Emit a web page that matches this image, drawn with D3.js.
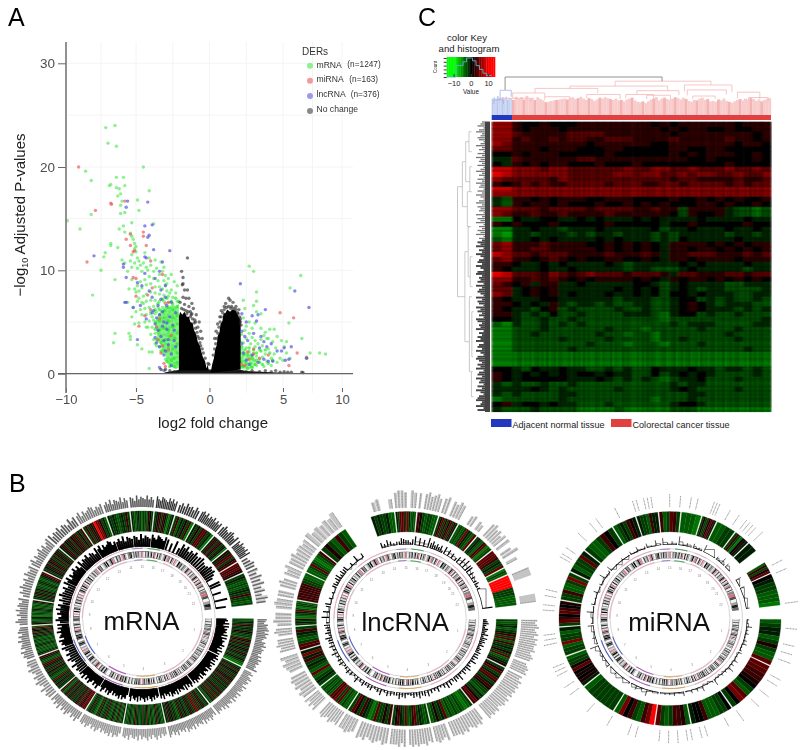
<!DOCTYPE html>
<html><head><meta charset="utf-8">
<style>html,body{margin:0;padding:0;background:#fff}svg{display:block;font-family:"Liberation Sans",Arial,sans-serif}</style>
<script src="https://cdn.jsdelivr.net/npm/d3@7"></script>
</head><body><svg id="c" width="800" height="750"></svg>
<script>
/* ---------- Panel A: volcano ---------- */
const xTicks=[-10,-5,0,5,10], yTicks=[0,10,20,30];
const legendNames=["mRNA","miRNA","lncRNA","No change"], legendCounts=["(n=1247)","(n=163)","(n=376)",""];
const greenPts=[[-7.16,23.8],[-6.5,24],[-7,22.3],[-6.4,22],[-4.5,20],[-8.6,19.6],[-8.2,18.7],[-6.4,19],[-5.9,19],[-6.8,18.3],[-6.9,18.2],[-6.4,18],[-5.8,18.2],[-6.2,17.9],[-4.1,17.7],[-6.1,17.4],[-6.3,17.2],[-4.9,16.8],[-6,16.7],[-6.1,16.3],[-4.8,15.8],[-8.2,15.4],[-6.1,15.5],[-5.8,15.6],[-9.9,14.8],[-9,14],[-5.3,14.6],[-3.8,14.5],[-5.9,14.3],[-6.2,14],[-5.8,13.7],[-5.4,13.6],[-6.8,12.6],[-6.8,12.4],[-7.2,11.7],[-7.3,11.3],[-7.5,10],[-8.1,7.6],[-6.5,9.1],[-6,11],[-5.8,10.7],[-6.5,3.9],[-6.6,3],[-5.5,3.9],[-5.4,3.6],[-5.4,3.3],[-4.1,2.1],[-3.9,2.1],[-4.1,.5],
[-5.3,13.3],[-5.2,13],[-5.1,12.6],[-5,12.3],[-5.1,12.1],[-5,11.8],[-5.3,11.5],[-4.9,11.2],[-4.8,10.9],[-5.1,10.7],[-4.7,10.5],[-4.9,10.2],[-4.5,10.7],[-4.3,10.3],[-4.6,9.9],[-4.2,10],[-4,10.5],[-3.8,9.9],[-3.6,10.2],[-3.4,9.6],[-3.2,9.9],[-3,9.5],[-2.8,9.2],[-2.6,9.6],[-2.4,8.9],[-2.2,8.5],[-2.9,8.7],[-3.1,9],[-3.5,9],[-3.8,9.2],[-4.1,9.4],[-4.4,9.1],[-4.7,8.9],[-4.9,8.5],[-5.1,8.2],[-5,7.9],[-4.8,8],[-4.6,8.3],[-4.3,8.6],[-4,8.7],[-3.7,8.4],[-3.4,8.4],[-3.2,8.2],[-2.9,8],[-2.6,8.1],[-2.3,7.8],[-2.5,7.4],[-2.8,7.5],[-3.1,7.6],[-3.4,7.7],[-3.7,7.8],[-4,7.9],[-4.3,7.7],[-4.5,7.5],[-4.8,7.3],[-4.9,7],[-4.6,6.9],[-4.3,7],[-4,7.1],[-3.7,7.1],[-3.4,7],[-3.1,7],[-2.8,6.9],[-2.5,6.8],[-2.2,7],[-2.3,6.4],[-2.6,6.3],[-2.9,6.4],[-3.2,6.4],[-3.5,6.4],[-3.8,6.5],[-4.1,6.4],[-4.4,6.3],[-4.7,6.2],[-5,6],[-5.3,5.5],[-4.6,5.7],[-4.3,5.7],[-4,5.8],[-3.7,5.8],[-3.4,5.7],[-3.1,5.8],[-2.8,5.7],[-2.5,5.7],[-2.2,5.8],[-2.3,5.2],[-2.6,5.1],[-2.9,5.2],[-3.2,5.1],[-3.5,5.1],[-3.8,5.2],[-4.1,5.1],[-4.4,5],[-4.8,4.9],[-4.2,4.5],[-3.9,4.5],[-3.6,4.5],[-3.3,4.4],[-3,4.5],[-2.7,4.5],[-2.4,4.6],[-2.2,4.1],[-2.5,3.9],[-2.8,3.9],[-3.1,3.8],[-3.4,3.8],[-3.7,3.9],[-4,3.8],[-3.8,3.3],[-3.5,3.2],[-3.2,3.2],[-2.9,3.3],[-2.6,3.3],[-2.3,3.4],[-2.2,2.8],[-2.5,2.7],[-2.8,2.7],[-3.1,2.6],[-3.4,2.6],[-3.6,2.7],[-3.2,2],[-2.9,2.1],[-2.6,2.1],[-2.3,2.2],[-2.2,1.6],[-2.5,1.5],[-2.8,1.5],[-3,1.4],[-2.7,1],[-2.4,1],[-2.2,.9],[-2.3,.6],[-4.9,2.8],[-4.6,2.4],[-5.1,4.8],[-5.2,6.4],[-5.6,6.9],[-5.5,8.2],[-5.3,9.1],[-5.6,9.9],[-5.3,10.3],[-6.3,12.2],[-5.4,10.9],[-3.3,10.8],[-3.1,10.3],[-3.7,11],[-4.1,11.2],[-4.4,11.7],[-3,8.6],[-2.7,7.8],[-3.6,6],[-3.3,6.1],[-3,6.1],[-2.7,6],[-2.4,6.1],[-4,6],[-4.5,6.8],[-3.9,5.5],[-3.3,5.4],[-2.9,5.5],[-2.4,5.4],[-4.3,4.5],[-3.5,4],[-2.9,3.7],[-2.4,3.6],[-3.7,2.9],[-3,2.9],
[2.7,10.4],[3,9.9],[6.5,9.5],[5.6,8.3],[3.2,7.9],[2.3,7.1],[2.4,6.3],[3,6.6],[3.2,6],[3.5,5.8],[3.2,7],[5.5,4.9],[6.6,3.4],[7.3,2],[8.1,2],[8.6,1.9],[7,1.5],[5.6,1.5],[5.3,3.1],[5.1,2.6],[4.9,3.2],[4.6,3.6],[4.5,2.5],[4.4,4.3],[4.1,4.3],[4.3,3.1],[4,3.4],[4,2.4],[3.9,3.4],[3.7,3.7],[3.5,3.3],[3.6,2.7],[3.3,2.9],[3.4,2.3],[3.1,3.2],[3.1,2.6],[2.9,3.5],[3,2],[2.8,2.9],[2.7,3.9],[2.7,2.2],[2.5,3.4],[2.5,2.5],[2.4,4.2],[2.3,3],[2.4,1.9],[2.2,2.4],[2.2,1.5],[2.4,1.2],[2.6,1.5],[2.8,1.7],[3,1.3],[3.2,1.7],[3.4,1.4],[3.6,1.6],[3.8,1.9],[3.9,1.2],[4.2,1.5],[4.4,1.9],[4.6,1.1],[4.8,1.5],[5,1.3],[5.3,2],[4.2,.8],[3.7,.7],[3.2,.8],[2.8,.7],[2.5,.7],[2.2,.7],[2.1,1.1],[2.1,2],[2.1,3.1],[2.2,3.8],[2.5,4.6],[2.7,5],[2.9,4.4],[3.1,4.9],[3.5,4.4],[3.8,4],[2.3,5.4]];
const brightPts=[[-2.1,7],[-2.3,7.3],[-2.6,7],[-2.9,7.3],[-3.2,7.2],[-3.5,6.8],[-2.2,6.5],[-2.5,6.2],[-2.8,6.4],[-3.1,6.1],[-3.4,6.2],[-3.7,6.2],[-2.2,5.6],[-2.5,5.4],[-2.8,5.1],[-3.1,5.4],[-3.4,5.1],[-3.7,5],[-2.2,4.8],[-2.5,4.5],[-2.8,4.2],[-3.1,4.4],[-3.4,4.2],[-3.7,4.3],[-2.2,3.9],[-2.4,3.4],[-2.7,3.6],[-3,3.3],[-3.3,3],[-3.6,3.3],[-2.2,2.9],[-2.5,2.4],[-2.8,2.5],[-3.1,2.3],[-3.3,2.2],[-2.2,2],[-2.4,1.5],[-2.6,1.3],[-2.9,1.2],[-2.2,1.1],[-2.4,.7],[-2.7,.7],
[2.2,2.6],[2.4,2.3],[2.7,2.5],[3,2.3],[3.2,2],[2.3,1.8],[2.6,1.8],[2.9,1.5],[3.2,1.3],[3.4,1.1],[2.2,1.2],[2.5,1],[2.8,1],[3.1,.9],[2.3,.7],[2.6,.5],[2.9,.6],[3.5,2.2],[3.8,2.3],[4.1,2],[3.6,.9],[4,1],[4.3,1.3]];
const redPts=[[-9.1,20],[-6.8,16.5],[-6.75,16.4],[-7.9,15.8],[-8.5,10.8],[-5.8,16.7],[-4.5,13.7],[-4.5,13.3],[-5.7,13],[-5.4,13.5],[-5.4,12.4],[-5.1,11.9],[-5.2,11.8],[-4.3,12.4],[-4,10.9],[-5.2,9.3],[-5,9.2],[-5,7.5],[-4.8,4.6],[-3.1,1],[-3,.7],[-3.3,2],[-4.4,5.6],[-4,6.2],[-3.4,5.3],[-3,6.8],[-2.8,6.9],[-3.2,9.6],[-3.9,8.3],[-3.5,3.3],[-3.2,2.7],[-2.8,2.3],[-2.6,3.7],[-3.6,4.5],[-4.2,7.6],[4.8,5.9],[5.9,5.4],[6.2,2],[5.5,.8],[7,1.6],[3,1.9],[3.4,1.5],[2.6,2.1],[2.2,.9],[3,2.4],[2.4,.8],[4,1.8],[2.7,1.4]];
const bluePts=[[-5.6,16.7],[-5.7,16.1],[-4.2,16.6],[-4.4,14.3],[-3.9,14.4],[-4.1,13.4],[-4.2,13.2],[-8,11.4],[-5.9,10.6],[-5.9,10.3],[-4.4,11.3],[-4.3,11.2],[-3.8,12],[-2.7,11.9],[-5.7,9.3],[-3.2,10.8],[-5.8,6.9],[-5.7,6.9],[-5.2,6.4],[-3.4,9.9],[-4.4,9.7],[-4.6,8.5],[-4.1,8],[-3.9,7.4],[-3.3,8.1],[-3,7.4],[-3.5,6.6],[-2.9,6.6],[-3.8,6.1],[-3.2,6],[-3.4,5.7],[-2.7,5.5],[-4.3,5.3],[-3.7,4.8],[-3.1,5],[-3.5,4.2],[-2.9,4.3],[-2.5,4.7],[-3.3,3.6],[-3.7,3.5],[-2.8,3.3],[-3.1,3.2],[-2.4,3.2],[-4.9,3.3],[-3.4,2.6],[-3,2.2],[-2.6,1.9],[-3.4,.6],[-3.1,.3],[-2.6,.8],[-4.7,6.6],[-4.9,8.8],[-3.7,9.2],[-3,8.5],[-2.6,6.9],[-3.3,7.2],[-2.3,5.9],[-3.6,5.4],[-2.9,4.9],[-3.9,5.9],[-2.4,4.2],[-3.2,4.6],[-2.8,2.8],[-3.6,3],[-2.3,2.6],[-3.1,1.8],
[2.1,8.7],[6,8],[7.2,6.4],[3.8,6.2],[7,1.5],[5.7,2.6],[3.3,5.7],[2.9,5.6],[3.2,5.1],[2.5,5],[2.2,5.8],[2.2,4.1],[3,3.9],[2.4,3.6],[2.6,3.2],[2.2,2.9],[3.5,3.6],[3.4,2.5],[3.7,3.1],[3.9,2.6],[4.2,2.9],[4.6,2.2],[4.3,1.2],[4.9,2.2],[5.1,2.5],[4,1.2],[3.3,1.1],[3.7,1.4],[5.2,1.3],[5.5,1.4],[2.9,1.8],[2.5,1.3],[2.3,2],[2.7,.9]];
const blackPts=[[-1.5,11.2],[-1.9,9.9],[-1.8,9.3],[-1.8,8.7],[-1.7,8.1],[-1.5,8.1],[-1.85,8.6],[-1.8,7.4],[-1.6,7.3],[-1.4,7.3],[-1.2,6.8],[-2,6.9],[-1.7,6.7],[-1.4,6.5],[-1.1,6.3],[-1.3,6],[-.9,5.7],[-1,5.2],[-.7,5],[-.8,4.5],[-1.25,5.7],[-.6,4.1],[-.5,3.4],[1.3,7.3],[1.6,6.9],[1.4,7.1],[1,6.5],[1.5,6.5],[1.8,6.5],[.8,6.1],[1.1,6.8],[2,6.2],[.7,5.5],[1.9,5.9],[.55,4.8],[2.1,5.3],[2.15,4.7],[.35,3.4],[.45,4.1],[-.3,1.5],[-.1,1],[-.03,.9],
[-3.3,.4],[-3,.4],[-2.7,.3],[-2.4,.2],[2.5,.2],[2.9,.3],[3.4,.2],[3.8,.3],[4.2,.2],[4.5,.3],[4.8,.15],[5.1,.2],[5.4,.15],[5.7,.15],[6.6,.15],[6.7,.1],
[-1.9,6.3],[-1.75,6.2],[-1.6,6.1],[-1.45,6],[-1.55,5.8],[-1.3,5.5],[-1.15,5.3],[-1.05,4.9],[-.95,4.4],[-.85,4],[-.8,3.6],[-.7,3.4],[-.65,3],[-.6,2.7],[-.5,2.4],[-.42,2],[-.95,5],[-1.2,5.8],
[.25,1.8],[.35,2.4],[.42,2.9],[.5,3.4],[.58,3.9],[.65,4.5],[.72,5],[.8,5.5],[.9,5.9],[1,6.2],[1.15,6.4],[1.3,6.5],[1.45,6.3],[1.65,6.3],[1.8,6.2],[1.95,5.8],[2.05,5.5],[2.1,5]];
const blackLeftTop=[[-2.08,.3],[-2.08,5.5],[-2,6],[-1.85,5.7],[-1.7,6],[-1.55,5.5],[-1.4,5.5],[-1.3,5],[-1.15,4.9],[-1.05,4.2],[-.9,3.8],[-.8,3.1],[-.65,2.7],[-.55,2.1],[-.45,1.6],[-.3,1.2],[-.2,.5],[-.12,.9],[-.05,.3]];
const blackRightTop=[[.08,.1],[.18,.9],[.3,1.5],[.38,2.3],[.5,2.8],[.55,3.6],[.68,4],[.75,4.8],[.88,5.1],[.95,5.8],[1.1,5.9],[1.2,6.2],[1.4,6],[1.55,6.2],[1.8,6.1],[1.95,5.6],[2.12,5.2],[2.12,.4]];
const baseStrip=[[-3.2,0],[-3,.15],[-2.3,.3],[-2,.4],[2,.4],[2.5,.25],[3.5,.2],[4.6,.12],[5.5,.08],[6.6,.05],[6.7,0]];
const greenBlobLeft=[[-2.08,.5],[-2.08,6.8],[-2.3,6.4],[-2.5,6.9],[-2.8,6.3],[-3,6.7],[-3.2,6.1],[-3.4,5.9],[-3.6,5.4],[-3.7,4.6],[-3.55,4.1],[-3.6,3.4],[-3.35,2.9],[-3.25,2.2],[-3,1.8],[-2.9,1],[-2.5,.6]];
const greenBlobRight=[[2.12,.4],[2.12,2.4],[2.4,2.1],[2.7,2.2],[3,1.8],[3.2,1.1],[3,.6],[2.7,.4]];

/* ---------- Panel B: circos rings. Letters a..k run -10..10 on the colour key ---------- */
const circosNames=["mRNA","lncRNA","miRNA"];
const chromLabels=["1","2","3","4","5","6","7","8","9","10","11","12","13","14","15","16","17","18","19","20","21","22"];
const mrnaEdges=[90,117,143,168,190,211,228,249,266,280,296,311,327,341,353.5,366,377,388,400,410,418.6,425,443];
const lncEdges=[90,117,143,167.4,188,212,230.7,252.5,266,280,295.6,309.6,327,341,354,365.5,377,388,399.6,410.4,421.7,425.8,443];
const mirEdges=[90,116,146,169,188,210.6,230.8,249.5,265.5,280,296,309.6,328.8,342,354,365.7,376.7,385,396,405,411,418,425,443];
const mrnaHeat=[
"cdedhdedgeddchgdhedgedheddgdcb","dehdgedhdeghdhedgdedhgdeidhdgcd","eddhedidjideheddgdehdcdedgehde","dcdedhdcdecdhddgdcdedhdcdedcd","edcdhdcdgdcddhdedcgdhbcdedgdc","ihjghidhgdedhdgedhgdcdh","dedgdeidcdedgdhdegidcdeh","dedcdcdedcddcdedhdgeic","gddcdeccdcdedcdcdg",
"dedhedgddcdedcdegi","edgehdghedhdgehd","eghdgehdgheidgdh","dhdhehkjjgdec","ededcdedhd","edcdedcddchfd","deghdhgdbde","dhcedgdhb","edgdhihdeb","ehgdhgdegb","gehidgh","ihihg","dedcdcdedhddcd"];
const lncHeat=[
"dcdecdehdichdedgdicdeg","dgideihdehgddcedgih","dcbcdcdcdciedgdc","dcdedihdcidehgd","hdgddicbdehdgid","ccdcidjhicdcdc","dedcicdedheje","hidcdehd","dedgbcdeidbddc","hhhhhhhddcc",
"ccdidcbcdh","dgdchdc","","ededdecc","ediiidjecdc","hgdcddcc","dgidhdgidhe","cdcdjedci","dedchibcd","iiihdedi","bdc","kkkkkdddcccc"];
const mirHeat=[
"cdeecdgdcci","iihhgfdcijfd","fddccchffe","cghhdcdi","kjhcdhfjc","ddddddc","egfgfigddc","ddcjddce","dihfihfg","ddhccdjd",
"ecddie","dccdhfd","cdedhge","eddchee","hcdihd","cccb","dgddgihe","ccdd","dhdbfge","ee","","chdgi","feddcccb"];
const outerMrna=[
"765878969786587968775869786769","685796875968759686958769685768","757968695876859687958675968579","675869758697685968759687","587969786857968579687","696857968596857","786957968579687","687958769685876","697586968758","586976859768","795867968579","968796875968","795867985768","686958769586","875968769686","976987697968","686978697","897968796868","797689769","869787969","5687","8697968597"];
const outerLnc=[
"878978979898897898078989","879898989798987989890","798987989888097898","8798898980979888","8978987989078988","878978980097979","8979898078979","0879880798","79880898","8808970879",
"88978878","9787879","","056005","8998098","80897897","8908798","0056054","0897868","806906","00","9008"];
const outerMir=[
"0808890","0880808009","007000880","880909080","0088008","0008000","808008880","0009880","000880","880000",
"00880800","080880","008000","8808880","00908","0880","009990","08080","88880","90","0000","080","8009"];
const midMrna=[
"7869596878695968779685968","8796859687958769859687968","7968595876859687958675968","6758697586976859687596","5879697868579685796","6968579685968","786957968579","6879587696858","697586968","586976859",
"7958679685","9687968759","7958679857","68695876","87596876","97698769","8695","9796879","78976","79897","58","8697"];
const midLnc=[
"3453254362645352435","4536246352745","3564253465","4645325463","3452642543","5362453","25436354","4625345","3764","5324",
"4356354","5364","","536423","3654425","8769","5746462","7653","6897","7543","42","39"];
const midMir=[
"2152313412","314362216","215331","413221","216241","2131","41218","1315","2161","3141",
"21612","5121","31412","4151","6131","8131","4121","71","3161","41","","51","413"];
const idiogram=[
"105028301680731649350728493r190703160827930516","027059316184035296173r0208391602738519","40270615938172640r19058031729405","0380716925174r02581937026","1603927481r70418350","03818260r7315","287061952r130684","05968147r16073","168350r09184","30726151r048",
"6193r08153904","27153r07460138","9138r30625","2r72046815","7351r30527","3816r08163","1492r5073","r20947153","28r16053","59r07138","3r7106","4r60385"];
const ringSpans=[[168,186,"#d9a05a"],[196,214,"#b050c0"],[232,252,"#5060c0"],[4,14,"#50a060"],[20,30,"#eab0c4"],[40,60,"#eab0c4"],[100,125,"#eab0c4"],[135,160,"#eab0c4"],[270,300,"#eab0c4"],[318,345,"#eab0c4"],[352,360,"#a080c0"]];

/* ---------- Panel C: heat map ---------- */
const heatRows=[
"ii gffgfff ggggggg gfgfggg gggfggg","ii gfgggfg ggggggg ggfgfgg ffgffgg","ii hgggggh hhhgggg gggfggg gggggfg","ii ghgghgh hgghhhg ggghggg gghggfg","ih ggggggg gfggggg gffgggg gggfggf","hh gggfggg fffggff fffggff ggfffff","ff gfgggff fffgfff fffgfgf gggffgf","ee hgggggg hhggggg gggggff gffffgf","fe gfgfggf ffgfffg fffffff ffgffff",
"jj iiihiih hhhhhih hiihhih hhihhih","kj iiiiiih hhhhiih iihhihi ihhihhi","ih hhhhgih hhhhhhh hhhghhg ggghggh","gf ghghggh hhhghhh gghhghh hhghghh","jj iiiiiii iiiiiii iiiiiii iiiiiii","ii iiiiiii iiiiiii iiiiiii iiiiiii",
"ed ggfgfgg gffgggf fffgffg fgfgffg","ed gfggfgf ffgffgf gfgfffg gfgffgf","ii hhhghhh hghhhhg ghggdgg ggeddcd","ih gghgghg ggghggg gggfdgf fgeddcd",
"cc feeffee fefeeef efeeeef eeeefee","gf gfffgff fffgfff ffeffgf ffffgff","cc eefeede eefeeee efdeefe eefeefe","cb eedeeed edeedee ededeee eedeede","dc eefefee eefefee ededfee eeefeee",
"hi ggghggg gffgfgf gfegggg fgfgfgg","hi gghhggg ggfgfgf gfeggfg gfgfgfg","ji hhghhhg ggghggg hgegghh hggghgh","hi ggfghgf gffggff gfeggfg gggfggg","gg feefefe eeefede eeeefef eeeefee","gf eeefeef eeeeede edddefe eeeedee",
"kj hhhgihg hihhhgh hhgehhg gghhghh","ii gghghgf gfggggf gfegfgg fgfgfgf","hg fgeggee feeeeef fedefee eeddeee","hh efgfgee eeeefef efdefed eedddde","ih efgfgef eeefeef efdffef eeeddee",
"gf eeeffee eeeedee eddeffd ededded","gg fefeged eededde eddefgf edeeedd","gf eedfgde ddddedd eddefgf eeedede","gg ededfdd eddddee edceffd eddeddd","ff eddedde ddddddd ddcdddd dddddde",
"dc eddeded edddddd dddedee eddddee","cc dddeddd dddeddd cddddde dddeddd","cc ddedddd ddeddcd dcddddd ddedddd","cc ddddded dddeddd dcddedd dddeddd","cc ddddddd dedddcd ddcddde ddddddd","cc dddddde ddddddd ddddddd ddddedd","cc ccccccc ccccccc ccccccc ccccccc","cc ccccccc ccccccc ccccccc ccccccc","cc ccccccc ccccccc ccccccc ccccccc",
"ff edfeefe eddeded dfeeefe edeeded","gf efefefe ffefeed dfdefef edddded","gf efffffe eefeded edcdeef dddeddd","ed eddedde ddddddd dddedee ddddddd","ee eefeded ddddedd dddefed dddeddd","ed eddddee ddddddd dddddee ddddddd","cd ddddded ddddddd dcddded ddddddd","fg effefee dddeddd dddeffe ddddddd","ed ddedddd ccccdcc cccdddc ccccccc"];
const heatColGrain="3069142705836190472851360947182603951742806319574206183957402681359047268135094726815390472681350947268135";
const heatRowGrain="2709416385027194638502719463850271946385027194638502719463850271946385027194638502719463850271946385027194638502719463850271946385027194638502719";
const keyValues=[-14,-13,-12,-11,-10,-9,-8,-7,-6,-5,-4,-3,-2,-1,0,1,2,3,4,5,6,7,8,9,10,11,12,13,14];
const keyHist=[[-14,0],[-10,0],[-8.5,0],[-8.5,.6],[-4.5,.6],[-4.5,.8],[-2.5,.8],[-2.5,1],[1,1],[1,.85],[3,.85],[3,.6],[5,.6],[5,.4],[7,.4],[7,.2],[9,.2],[9,.08],[12,.08]];
const keyTicks=[-10,0,10], keyTickLabels=["−10","0","10"];
const normalLeaf=[72,78,70,82,74,66,78,72,80,68,75,72];
const tumourLeaf=[66,80,72,78,68,84,70,76,66,78,70,64,56,58,62,64,66,68,70,72,68,74,78,70,74,80,72,66,74,70,62,68,76,72,78,74,70,66,72,64,66,60,68,72,76,64,58,56,60,52,60,68,72,78,64,72,76,70,66,72,78,74,68,76,70,62,58,66,64,72,76,66,70,60,62,58,68,64,72,62,58,54,60,66,70,64,72,68,74,70,62,68,60,66,72,74];
const colTreePink=[[44.2,78.5,89,76,79],[28,63,76,68,64],[15.5,38,70,58,58],[7.5,19,58,45,48],[19,28,48,40,40],[52,67,64,54,52],[55.5,64,52,42,40],[69,86,79,62,60],[70,84,66,52,54],[88,96,60,44,42],[72,80,50,42,42],[34,46,54,44,42],[48,58,54,44,42],[92,99,46,38,36],[3,14,44,36,34]];
const colTreeBlue=[[3,7,65,40,48],[.8,4.2,40,28,28]];
const colTreeRoot=[4.8,61,100,66,89];
const rowFringe="568479568746957485967584695748596748596479586749586947586947586947596478596489576849578649587496857498576947586947859648975869478596748596478956948";
const rowTree=[[13,35,100,76,64],[8,17,76,60,52],[26,44,64,48,42],[4,12,60,44,40],[14,21,52,40,36],[21,31,48,36,38],[35,50,42,30,32],[2,6,44,32,30],[9,14,40,28,30],[38,47,30,22,24],[50,55,32,26,22],[27,33,38,26,26]];

const svg=d3.select("#c");
const defs=svg.append("defs");
defs.append("filter").attr("id","soft").attr("x","-5%").attr("y","-5%").attr("width","110%").attr("height","110%").append("feGaussianBlur").attr("stdDeviation",.45);
defs.append("filter").attr("id","ringSoft").attr("x","-5%").attr("y","-5%").attr("width","110%").attr("height","110%").append("feGaussianBlur").attr("stdDeviation",.55);
defs.append("filter").attr("id","heatBlur").attr("x","0").attr("y","0").attr("width","100%").attr("height","100%").append("feGaussianBlur").attr("stdDeviation","1.2 .6");
const T=(g,x,y,s,size,opt={})=>g.append("text").attr("x",x).attr("y",y).text(s).attr("font-size",size).attr("fill",opt.fill||"#000").attr("text-anchor",opt.anchor||"start");

/* ======= A ======= */
const A=svg.append("g");
const x=d3.scaleLinear().domain([-10,-5,0,5,10]).range([66,136,209.5,283,342]);
const y=d3.scaleLinear().domain([0,10,20,30]).range([373.7,270.3,167,63.3]);
const gridX=[-7.5,-2.5,2.5,7.5], gridY=[5,15,25];
A.selectAll("line.gy").data(yTicks.concat(gridY)).join("line").attr("x1",66).attr("x2",353).attr("y1",d=>y(d)).attr("y2",d=>y(d)).attr("stroke","#f4f4f4");
A.selectAll("line.gx").data(xTicks.concat(gridX)).join("line").attr("x1",d=>x(d)).attr("x2",d=>x(d)).attr("y1",42).attr("y2",393).attr("stroke","#f4f4f4");
const marks=A.append("g").attr("filter","url(#soft)");
const aPoly=(pts,fill,op)=>marks.append("path").attr("d",d3.line().x(d=>x(d[0])).y(d=>y(d[1])).curve(d3.curveLinearClosed)(pts)).attr("fill",fill).attr("opacity",op);
aPoly(greenBlobLeft,"#22e622",.55);aPoly(greenBlobRight,"#33e533",.4);
const dots=(pts,fill,op,r=1.7)=>marks.append("g").selectAll("circle").data(pts).join("circle").attr("cx",d=>x(d[0])).attr("cy",d=>y(d[1])).attr("r",r).attr("fill",fill).attr("opacity",op);
dots(greenPts,"#55e855",.66);dots(brightPts,"#22ee22",.7);
aPoly(blackLeftTop,"#000",1);aPoly(blackRightTop,"#000",1);aPoly(baseStrip,"#000",.9);
dots(redPts,"#e85a5a",.68);dots(bluePts,"#4a4ae0",.66);dots(blackPts,"#222",.6);
const axL=A.append("g").attr("transform","translate(66,0)").call(d3.axisLeft(y).tickValues(yTicks).tickSize(8).tickPadding(3));
axL.select(".domain").remove();
axL.selectAll("line").attr("stroke","#666").attr("x2",-8);
axL.selectAll("text").attr("font-size",13.5).attr("fill","#4d4d4d").attr("font-family",null);
const axB=A.append("g").attr("transform","translate(0,388)").call(d3.axisBottom(x).tickValues(xTicks).tickSize(4).tickPadding(3).tickFormat(d=>String(d).replace("-","−")));
axB.select(".domain").remove();
axB.selectAll("line").attr("stroke","#666");
axB.selectAll("text").attr("font-size",13).attr("fill","#4d4d4d").attr("font-family",null);
A.append("line").attr("x1",66).attr("x2",66).attr("y1",42).attr("y2",393).attr("stroke","#777").attr("stroke-width",1.6);
A.append("line").attr("x1",58).attr("x2",353).attr("y1",y(0)).attr("y2",y(0)).attr("stroke","#666").attr("stroke-width",1.2);
T(A,213,428,"log2 fold change",15,{anchor:"middle",fill:"#222"});
const yt=A.append("text").attr("transform","translate(24.5,215) rotate(-90)").attr("text-anchor","middle").attr("font-size",15).attr("fill","#222");
yt.append("tspan").text("−log");yt.append("tspan").text("10").attr("font-size",9).attr("dy",3);yt.append("tspan").text(" Adjusted P-values").attr("dy",-3);
T(A,302,55,"DERs",10,{fill:"#333"});
const legCol=["#8ff08f","#f29a9a","#9a9af0","#8a8a8a"], legY=d3.scalePoint().domain(legendNames).range([65.7,111]);
const cntX=[347.3,349.3,350.7,0];
legendNames.forEach((n,i)=>{A.append("circle").attr("cx",310).attr("cy",legY(n)).attr("r",3).attr("fill",legCol[i]);
 T(A,316.5,legY(n)+1.8-i*.3,n,8.6,{fill:"#333"}); if(legendCounts[i])T(A,cntX[i],legY(n)+1.2-i*.3,legendCounts[i],8.3,{fill:"#333"});});
T(svg,8,26,"A",25);T(svg,9,492,"B",25);T(svg,418,26,"C",25);

/* ======= B ======= */
const hc=d3.scaleLinear().domain([-10,0,10]).range(["#00ff00","#000000","#ff0000"]);
const lv=ch=>(ch.charCodeAt(0)-97-5)*2;
const ringCol=ch=>{const v=lv(ch);return hc(Math.abs(v)>=10?v:v*.58);};
const rad=d=>d*Math.PI/180;
const arc=d3.arc();
function spikes(g,edges,strs,r0,len,col,o={}){
 strs.forEach((s,i)=>{ if(!s||i+1>=edges.length)return;
  const a0=edges[i]+.5,a1=edges[i+1]-.5;
  const sx=d3.scaleLinear().domain([0,Math.max(1,s.length-1)]).range([a0+.4,a1-.4]);
  const cc=Array.isArray(col)?col[i%col.length]:col;
  if(o.block){const st=d3.scaleLinear().domain([0,s.length]).range([a0,a1]);
   [...s].forEach((c,k)=>{const h=+c;if(!h)return;g.append("path").attr("d",arc({innerRadius:r0,outerRadius:r0+h/9*len,startAngle:rad(st(k)),endAngle:rad(st(k+1))-.004})).attr("fill",o.block);});}
  const gap=rad((a1-a0)/s.length)*(r0+len/2);
  const sw=Math.min(o.maxW||3,gap*(o.fill||.9));
  const p=d3.path();
  [...s].forEach((c,k)=>{const h=+c; if(!h)return; const a=rad(sx(k)-90); p.moveTo(r0*Math.cos(a),r0*Math.sin(a));p.lineTo((r0+h/9*len)*Math.cos(a),(r0+h/9*len)*Math.sin(a));});
  const path=g.append("path").attr("d",p.toString()).attr("stroke",cc).attr("stroke-width",sw).attr("fill","none");
  if(o.dash)path.attr("stroke-dasharray",o.dash);
  if(o.step){const ln=d3.lineRadial().angle((c,k)=>rad(sx(k))).radius(c=>r0+ +c/9*len*.35).curve(d3.curveStepAfter);
   g.append("path").attr("d",ln([...s])).attr("fill","none").attr("stroke","#000").attr("stroke-width",.5);}
  if(o.base)g.append("path").attr("d",arc({innerRadius:r0-.2,outerRadius:r0+.5,startAngle:rad(a0),endAngle:rad(a1)})).attr("fill","#000");
 });
}
const gray=d3.scaleLinear().domain([0,9]).range(["#f4f4f4","#000000"]);
function circos(cx,cy,name,edges,heat,outer,mid,o){
 const root=svg.append("g").attr("transform",`translate(${cx},${cy}) scale(1,.965)`);
 const g0=root.append("g").attr("filter","url(#soft)");
 spikes(g0,edges,outer,o.oR,o.oL,o.oCol,{dash:o.oDash,maxW:o.oMax,fill:.72,block:o.oBlock});
 const gr=root.append("g").attr("filter","url(#ringSoft)");
 heat.forEach((s,i)=>{ if(!s||i+1>=edges.length)return;
  const a0=edges[i]+.4,a1=edges[i+1]-.4, st=d3.scaleLinear().domain([0,s.length]).range([a0,a1]);
  [...s].forEach((c,k)=>gr.append("path").attr("d",arc({innerRadius:90,outerRadius:111,startAngle:rad(st(k)),endAngle:rad(st(k+1))})).attr("fill",ringCol(c)).attr("stroke",ringCol(c)).attr("stroke-width",.25));
 });
 const g=root.append("g").attr("filter","url(#soft)");
 spikes(g,edges,mid,o.mR,o.mL,"#000",{base:true,maxW:o.mW,fill:o.mF,step:o.step});
 idiogram.forEach((s,i)=>{const a0=mrnaEdges[i]+.3,a1=mrnaEdges[i+1]-.3,st=d3.scaleLinear().domain([0,s.length]).range([a0,a1]);
  [...s].forEach((c,k)=>g.append("path").attr("d",arc({innerRadius:63,outerRadius:69,startAngle:rad(st(k)),endAngle:rad(st(k+1))})).attr("fill",c==="r"?"#e06a80":gray(+c)));
  g.append("path").attr("d",arc({innerRadius:69,outerRadius:69.4,startAngle:rad(a0),endAngle:rad(a1)})).attr("fill","#333");
  g.append("path").attr("d",arc({innerRadius:62.7,outerRadius:63,startAngle:rad(a0),endAngle:rad(a1)})).attr("fill","#333");
  const am=rad((a0+a1)/2-90);
  root.append("text").attr("x",53*Math.cos(am)).attr("y",53*Math.sin(am)+1).attr("text-anchor","middle").attr("font-size",3).attr("fill","#888").text(chromLabels[i]);
 });
 [60,72.5].forEach(r=>g.append("circle").attr("r",r).attr("fill","none").attr("stroke","#aaa").attr("stroke-width",.5));
 ringSpans.forEach(s=>{[72.3,60.3].forEach(r=>g.append("path").attr("d",arc({innerRadius:r-.5,outerRadius:r+.5,startAngle:rad(s[0]),endAngle:rad(s[1])})).attr("fill",s[2]));});
 root.append("text").attr("y",12.5).attr("x",-1).attr("text-anchor","middle").attr("font-size",25.8).attr("fill","#111").text(name);
}
circos(142.5,618,circosNames[0],mrnaEdges,mrnaHeat,outerMrna,midMrna,{oR:115,oL:12,oCol:["#777","#888","#888","#999","#999","#888","#888","#777","#777","#777","#777","#555","#777","#666","#555","#333","#333","#333","#333","#333","#555","#666"],oMax:1.5,oBlock:"#cfcfcf",mR:74,mL:13,mW:2,mF:1.1});
circos(406.3,618.7,circosNames[1],lncEdges,lncHeat,outerLnc,midLnc,{oR:115,oL:18,oCol:"#888",oDash:"1 .6",oMax:.9,oBlock:"#c4c4c4",mR:77,mL:10,mW:1.2,mF:.6,step:true});
circos(670,618.7,circosNames[2],mirEdges,mirHeat,outerMir,midMir,{oR:116,oL:13,oCol:"#888",oDash:"1 .5",oMax:.9,mR:77,mL:10,mW:.7,mF:.4,step:true});

/* ======= C ======= */
const C=svg.append("g");
const heatG=C.append("g").attr("filter","url(#heatBlur)");
const rows=heatRows.map(r=>r.replace(/ /g,""));
const colX=d3.scaleLinear().domain([0,2,30]).range([491.7,512,771]);
const rowY=d3.scaleLinear().domain([0,rows.length]).range([121.7,411.7]);
const cellCol=c=>{const v=lv(c);return hc(v>0?v:v*.85);};
rows.forEach((r,i)=>{[...r].forEach((c,j)=>{heatG.append("rect").attr("x",colX(j)).attr("y",rowY(i)).attr("width",colX(j+1)-colX(j)+.4).attr("height",rowY(i+1)-rowY(i)+.4).attr("fill",cellCol(c));});});
/* fine-grain column and row texture */
const grainX=d3.scaleLinear().domain([0,heatColGrain.length]).range([512,771]);
[...heatColGrain].forEach((c,i)=>C.append("rect").attr("x",grainX(i)).attr("y",121.7).attr("width",grainX(1)-grainX(0)).attr("height",290).attr("fill","#000").attr("opacity",+c*.028));
const grainY=d3.scaleLinear().domain([0,heatRowGrain.length]).range([121.7,411.7]);
[...heatRowGrain].forEach((c,i)=>C.append("rect").attr("x",491.7).attr("y",grainY(i)).attr("width",279.3).attr("height",grainY(1)-grainY(0)).attr("fill","#000").attr("opacity",+c*.028));
const pctX=d3.scaleLinear().domain([0,100]).range([491.7,771]);
const hY=d3.scaleLinear().domain([0,100]).range([115,77]);
C.append("rect").attr("x",colX(0)).attr("width",colX(2)-colX(0)).attr("y",115).attr("height",5).attr("fill","#2238c0");
C.append("rect").attr("x",colX(2)).attr("width",colX(30)-colX(2)).attr("y",115).attr("height",5).attr("fill","#e04040");
const leafB=d3.scaleLinear().domain([0,normalLeaf.length]).range([colX(0),colX(2)]), leafT=d3.scaleLinear().domain([0,tumourLeaf.length]).range([colX(2),colX(30)]);
const hL=v=>hY(v*.6);
normalLeaf.forEach((v,i)=>C.append("rect").attr("x",leafB(i)).attr("width",leafB(i+1)-leafB(i)+.2).attr("y",hL(v)).attr("height",115-hL(v)).attr("fill",i%3?"#c9d5f0":"#b9c8ec"));
tumourLeaf.forEach((v,i)=>C.append("rect").attr("x",leafT(i)).attr("width",leafT(i+1)-leafT(i)+.2).attr("y",hL(v)).attr("height",115-hL(v)).attr("fill",i%4?"#f9cccc":"#f4b4b4"));
const bracket=(d,col)=>C.append("path").attr("d",`M${pctX(d[0])},${hY(d[3])}V${hY(d[2])}H${pctX(d[1])}V${hY(d[4])}`).attr("fill","none").attr("stroke",col).attr("stroke-width",.8);
colTreePink.forEach(d=>bracket(d,"#f4b8b8"));colTreeBlue.forEach(d=>bracket(d,"#9fb4e8"));bracket(colTreeRoot,"#777");
const fr=d3.scaleLinear().domain([0,rowFringe.length]).range([122,412]);
const fx=d3.scaleLinear().domain([0,9]).range([489.5,476]);
[...rowFringe].forEach((c,i)=>{C.append("line").attr("x1",489.8).attr("x2",fx(+c)).attr("y1",fr(i)).attr("y2",fr(i)).attr("stroke",i<60?"#777":"#444").attr("stroke-width",i<60?1.3:1.9);});
C.append("rect").attr("x",485).attr("y",122).attr("width",5).attr("height",290).attr("fill","#444");
const treeX=d3.scaleLinear().domain([0,100]).range([478,457.5]);
rowTree.forEach(d=>C.append("path").attr("d",`M${treeX(d[3])},${rowY(d[0])}H${treeX(d[2])}V${rowY(d[1])}H${treeX(d[4])}`).attr("fill","none").attr("stroke","#bbb").attr("stroke-width",.8));
C.append("rect").attr("x",491).attr("y",419).attr("width",20.5).attr("height",8).attr("fill","#2238c0");
T(C,512.5,428,"Adjacent normal tissue",9.1,{fill:"#222"});
C.append("rect").attr("x",611).attr("y",419).attr("width",20.5).attr("height",8).attr("fill","#e04040");
T(C,632.5,428,"Colorectal cancer tissue",9.1,{fill:"#222"});
T(C,467,41,"color Key",9.6,{anchor:"middle",fill:"#222"});
T(C,469,52,"and histogram",9.6,{anchor:"middle",fill:"#222"});
const kx=d3.scaleLinear().domain([-14,14]).range([446.7,495]);
const kh=d3.scaleLinear().domain([0,1]).range([77,58]);
keyValues.slice(0,-1).forEach(v=>C.append("rect").attr("x",kx(v)).attr("y",57).attr("width",kx(v+1)-kx(v)+.3).attr("height",20).attr("fill",hc(Math.max(-10,Math.min(10,v)))));
C.append("path").attr("d",d3.line().x(d=>kx(d[0])).y(d=>kh(d[1]))(keyHist)).attr("fill","none").attr("stroke","#55b8c8").attr("stroke-width",.9);
const kAx=C.append("g").attr("transform","translate(0,74)").call(d3.axisBottom(kx).tickValues(keyTicks).tickSize(3).tickPadding(4).tickFormat((d,i)=>keyTickLabels[i]));
kAx.select(".domain").remove();kAx.selectAll("text").attr("font-size",7.5).attr("fill","#222").attr("font-family",null);kAx.selectAll("line").attr("stroke","#333");
const kyAx=C.append("g").attr("transform","translate(446.7,0)").call(d3.axisLeft(kh).tickValues([0,.2,.4,.6,.8,1]).tickSize(3).tickFormat(""));
kyAx.select(".domain").remove();kyAx.selectAll("line").attr("stroke","#333");
T(C,471,93.5,"Value",6.4,{anchor:"middle",fill:"#222"});
C.append("text").attr("transform","translate(437,67) rotate(-90)").attr("text-anchor","middle").attr("font-size",4.5).attr("fill","#333").text("Count");
</script></body></html>
